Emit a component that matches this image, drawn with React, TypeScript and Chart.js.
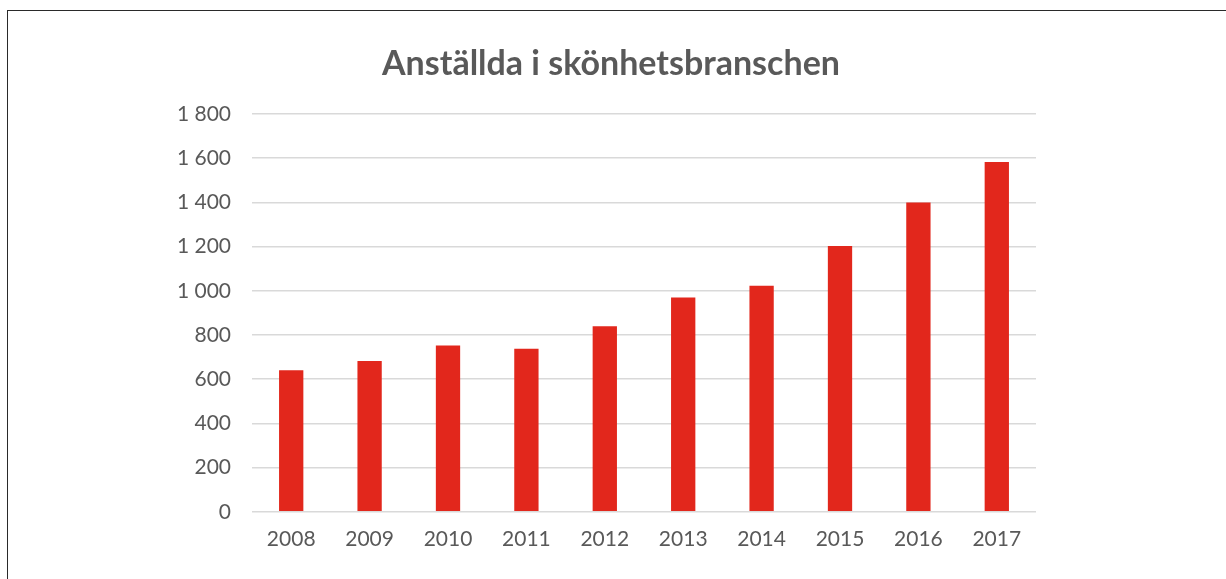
import React, { useEffect, useRef } from "react";
import { Chart, registerables } from "chart.js";

Chart.register(...registerables);

const categories = ["2008", "2009", "2010", "2011", "2012", "2013", "2014", "2015", "2016", "2017"];
const employees = [640, 682, 753, 738, 840, 970, 1023, 1203, 1400, 1583];
const yTickLabels = ["0", "200", "400", "600", "800", "1\u202F000", "1\u202F200", "1\u202F400", "1\u202F600", "1\u202F800"];
const chartTitle = "Anställda i skönhetsbranschen";

export default function App() {
  const ref = useRef<HTMLCanvasElement | null>(null);

  useEffect(() => {
    if (!ref.current) return;
    const chart = new Chart(ref.current, {
      type: "bar",
      data: {
        labels: categories,
        datasets: [
          {
            data: employees,
            backgroundColor: "#E2271C",
            borderWidth: 0,
            barPercentage: 0.31,
            categoryPercentage: 1,
          },
        ],
      },
      options: {
        animation: false,
        responsive: false,
        maintainAspectRatio: false,
        layout: { padding: { left: 130, right: 190, top: 114, bottom: 12 } },
        plugins: {
          legend: { display: false },
          tooltip: { enabled: false },
          title: { display: false },
        },
        scales: {
          x: {
            grid: { display: false, drawTicks: false },
            border: { display: false },
            ticks: {
              color: "#595959",
              font: { family: "Lato", size: 21 },
              padding: 15,
              maxRotation: 0,
            },
          },
          y: {
            min: 0,
            max: 1800,
            afterFit: (scale: any) => {
              scale.width = 122;
            },
            grid: { color: "#D9D9D9", lineWidth: 1.5, drawTicks: false },
            border: { display: false },
            ticks: {
              stepSize: 200,
              color: "#595959",
              font: { family: "Lato", size: 21 },
              padding: 21,
              callback: (_v: any, i: number) => yTickLabels[i],
            },
          },
        },
      },
    });
    return () => chart.destroy();
  }, []);

  return (
    <div style={{ position: "fixed", left: 0, top: 0, width: 1226, height: 579, background: "#fff" }}>
      <canvas ref={ref} width={1226} height={579} style={{ position: "absolute", left: 0, top: 0 }} />
      <div
        style={{
          position: "absolute",
          left: 311,
          width: 600,
          top: 41,
          textAlign: "center",
          fontFamily: "Lato",
          fontWeight: 700,
          fontSize: 34,
          lineHeight: "42px",
          color: "#595959",
          whiteSpace: "nowrap",
        }}
      >
        {chartTitle}
      </div>
      <div
        style={{
          position: "absolute",
          left: 7,
          top: 10,
          width: 1226,
          height: 600,
          borderTop: "1px solid #2a2a2a",
          borderLeft: "1px solid #2a2a2a",
          pointerEvents: "none",
        }}
      />
    </div>
  );
}
